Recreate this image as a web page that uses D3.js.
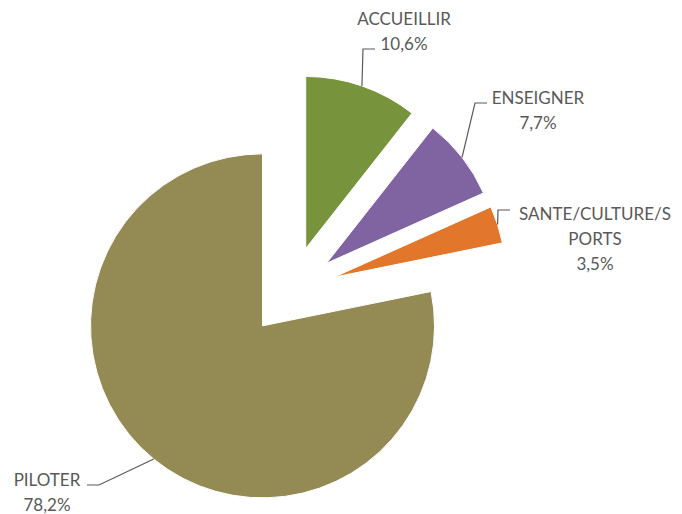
<!DOCTYPE html>
<html>
<head>
<meta charset="utf-8">
<script src="https://cdn.jsdelivr.net/npm/d3@7"></script>
<style>
  html, body { margin: 0; padding: 0; background: #ffffff; }
  svg { display: block; }
</style>
</head>
<body>
<svg id="chart" width="682" height="514"></svg>
<script>
// ---- data ----
const categories = ["ACCUEILLIR", "ENSEIGNER", "SANTE/CULTURE/SPORTS", "PILOTER"];
const values = [10.6, 7.7, 3.5, 78.2];
const valueLabels = ["10,6%", "7,7%", "3,5%", "78,2%"];
const labelLines = [["ACCUEILLIR"], ["ENSEIGNER"], ["SANTE/CULTURE/S", "PORTS"], ["PILOTER"]];
const colors = ["#77933C", "#8064A2", "#E2762A", "#948A54"];

// ---- layout ----
const W = 682, H = 514;
const cx = 291, cy = 291, R = 172, explode = 45;
const lineH = 25;
// label layout: center x, first baseline, leader elbow & end
const labelLayout = [
  { x: 404, y: 25, elbow: [363, 49], end: [375, 49] },
  { x: 538, y: 104, elbow: [475, 103], end: [487, 103] },
  { x: 595, y: 220, elbow: [498, 210], end: [510, 210] },
  { x: 47, y: 486, elbow: [99, 485], end: [87, 485] }
];

const svg = d3.select("#chart");
const g = svg.append("g").attr("transform", `translate(${cx},${cy})`);

const pie = d3.pie().sort(null).value(d => d).startAngle(0).endAngle(2 * Math.PI);
const arcs = pie(values);
const arc = d3.arc().innerRadius(0).outerRadius(R);

const offset = d => {
  const m = (d.startAngle + d.endAngle) / 2;
  return [explode * Math.sin(m), -explode * Math.cos(m)];
};

g.selectAll("path.slice")
  .data(arcs)
  .join("path")
  .attr("class", "slice")
  .attr("d", arc)
  .attr("fill", (d, i) => colors[i])
  .attr("stroke", "#ffffff")
  .attr("stroke-width", 1)
  .attr("transform", d => { const o = offset(d); return `translate(${o[0]},${o[1]})`; });

// leader lines
arcs.forEach((d, i) => {
  const m = (d.startAngle + d.endAngle) / 2;
  const o = offset(d);
  const px = cx + o[0] + R * Math.sin(m);
  const py = cy + o[1] - R * Math.cos(m);
  const L = labelLayout[i];
  svg.append("path")
    .attr("d", d3.line()([[px, py], L.elbow, L.end]))
    .attr("fill", "none")
    .attr("stroke", "#595959")
    .attr("stroke-width", 1.2);
});

// labels
arcs.forEach((d, i) => {
  const L = labelLayout[i];
  const lines = labelLines[i].concat([valueLabels[i]]);
  const t = svg.append("text")
    .attr("font-family", "Lato, 'Open Sans', sans-serif")
    .attr("font-size", 17)
    .attr("fill", "#595959")
    .attr("text-anchor", "middle");
  lines.forEach((ln, k) => {
    t.append("tspan")
      .attr("x", L.x)
      .attr("y", L.y + k * lineH)
      .text(ln);
  });
});
</script>
</body>
</html>
